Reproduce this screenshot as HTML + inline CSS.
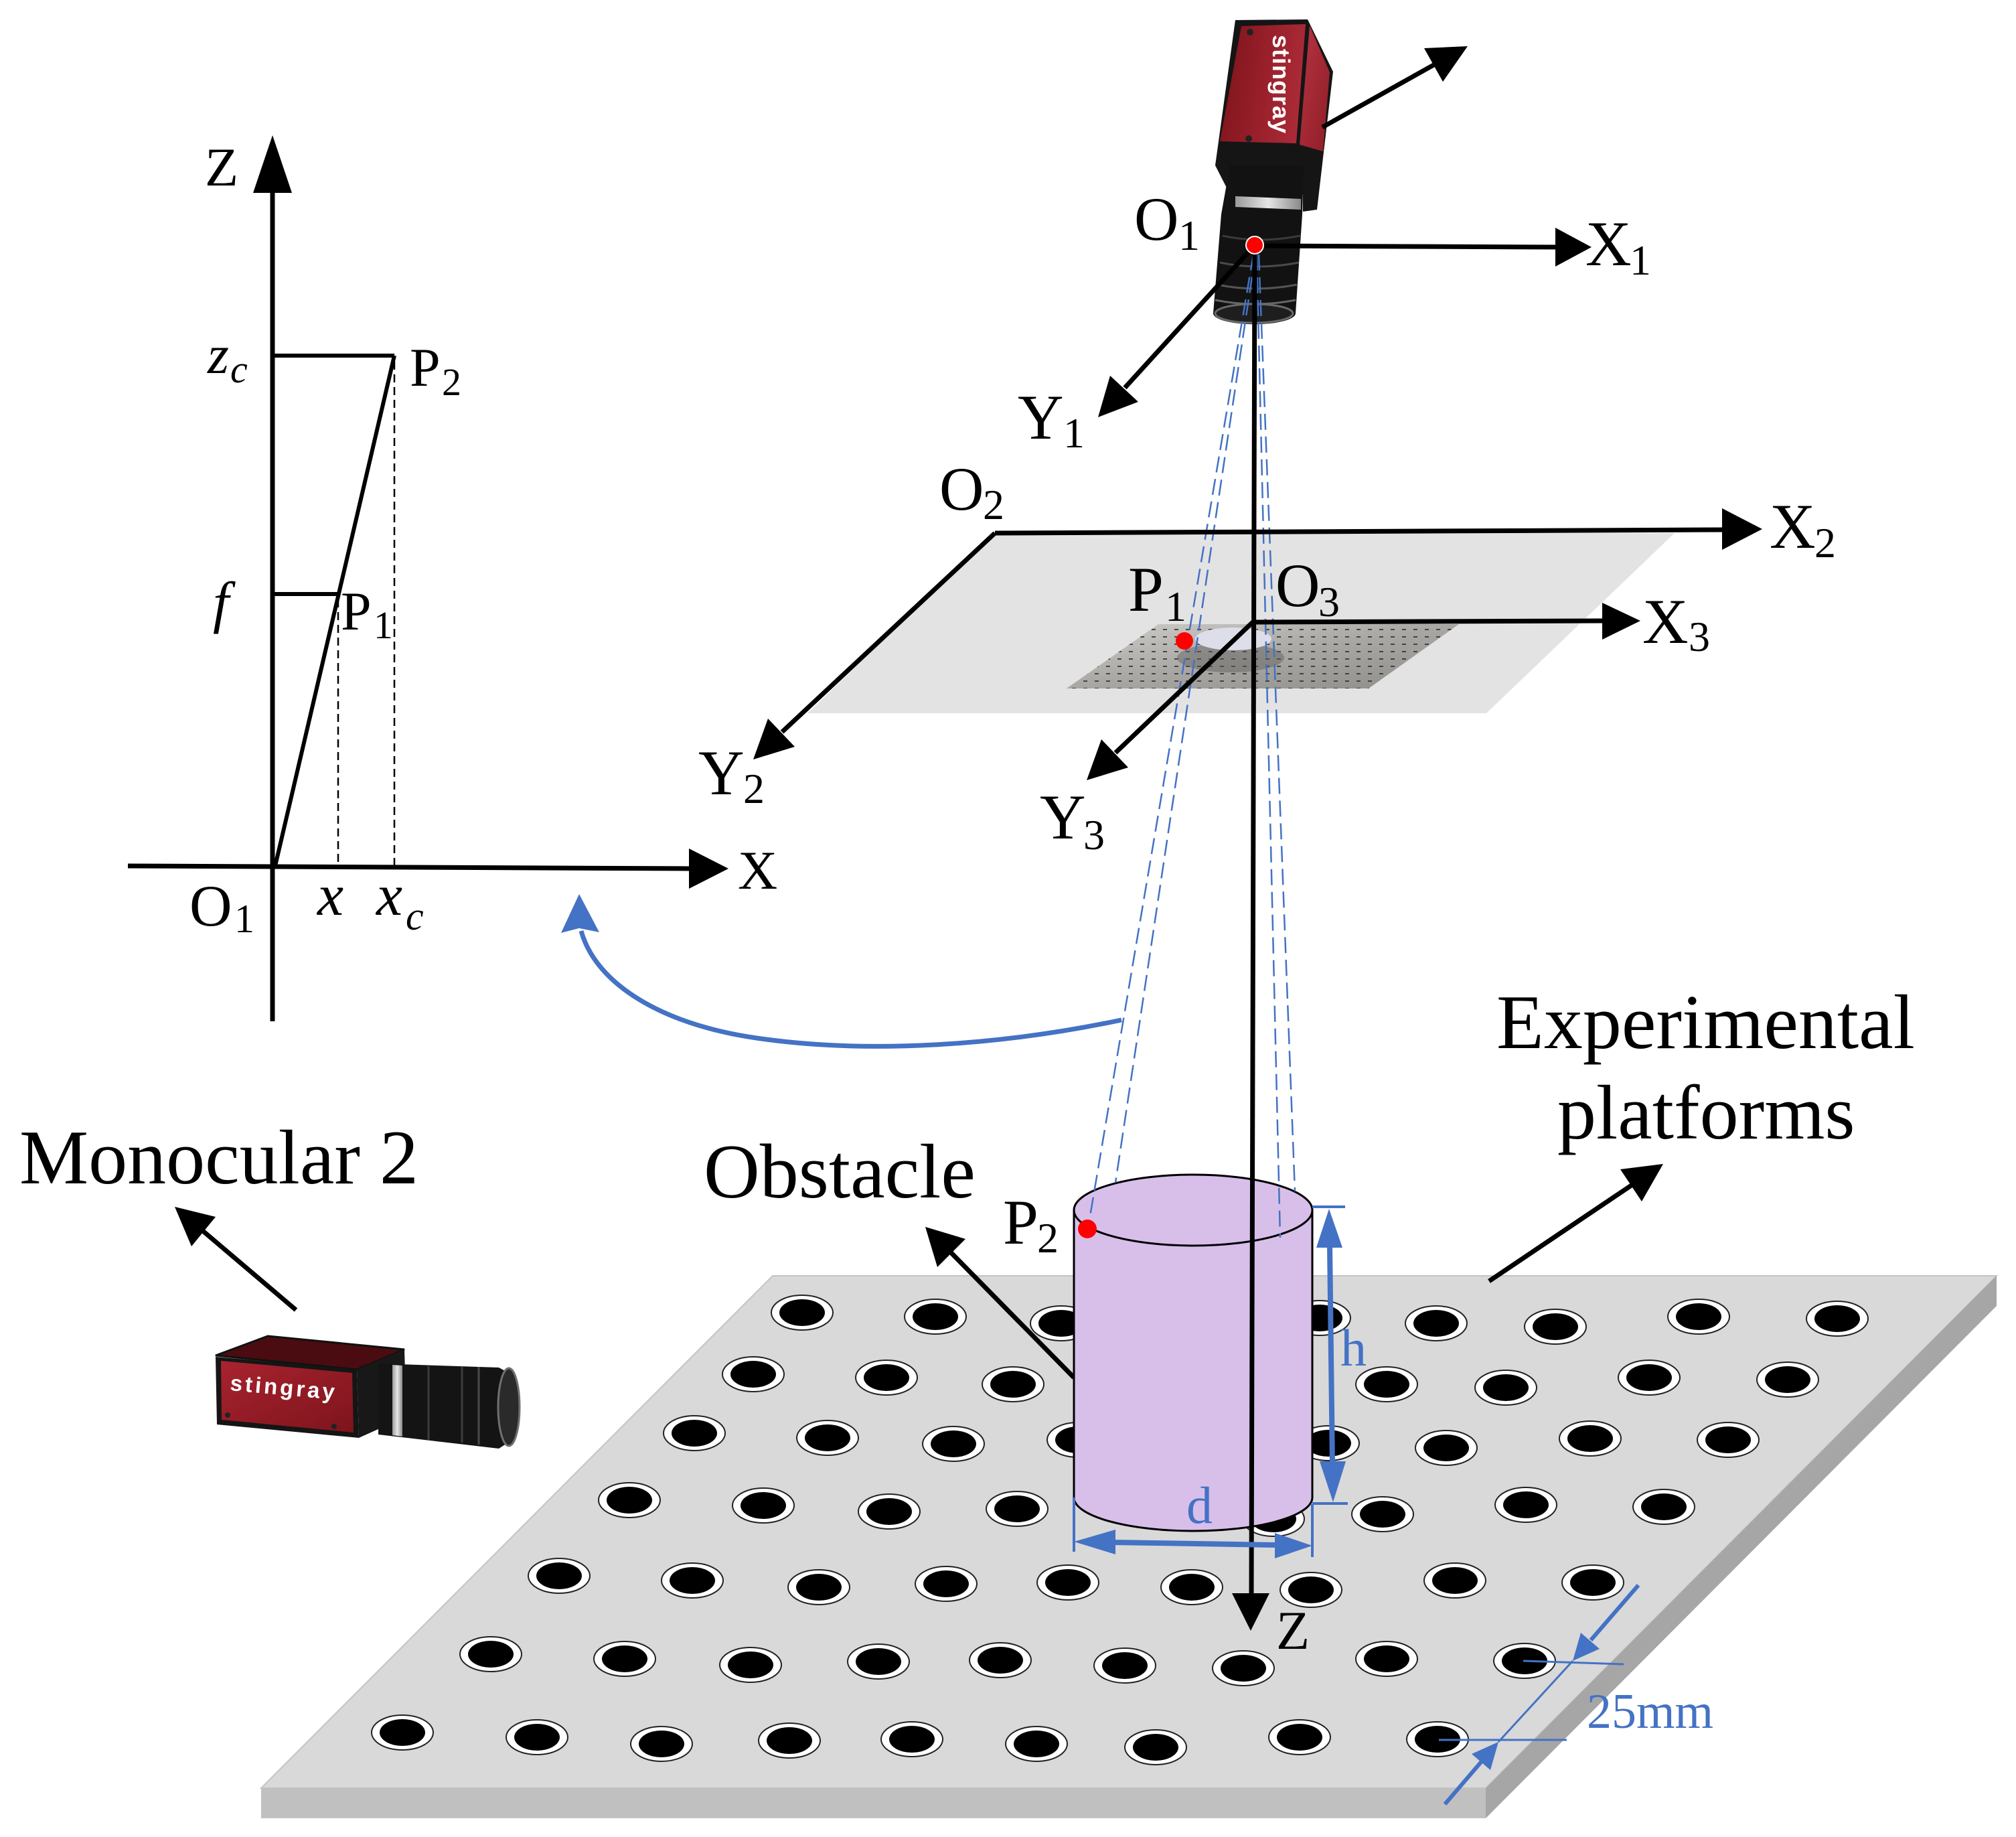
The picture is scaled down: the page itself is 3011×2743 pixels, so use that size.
<!DOCTYPE html>
<html>
<head>
<meta charset="utf-8">
<style>
  html, body { margin:0; padding:0; background:#fff; }
  svg { display:block; }
  .t { font-family: "Liberation Serif", "Times New Roman", serif; fill:#000; }
  .ti { font-family: "Liberation Serif", "Times New Roman", serif; font-style: italic; fill:#000; }
  .b { font-family: "Liberation Serif", "Times New Roman", serif; fill:#4472c4; }
</style>
</head>
<body>
<svg xmlns="http://www.w3.org/2000/svg" width="3011" height="2743" viewBox="0 0 3011 2743">
  <defs>
    <linearGradient id="red1" x1="0" y1="0" x2="1" y2="0.2">
      <stop offset="0" stop-color="#7a121a"/>
      <stop offset="0.55" stop-color="#971f29"/>
      <stop offset="1" stop-color="#a92a36"/>
    </linearGradient>
    <linearGradient id="red2" x1="0" y1="0" x2="1" y2="1">
      <stop offset="0" stop-color="#b73442"/>
      <stop offset="1" stop-color="#8e1d27"/>
    </linearGradient>
    <linearGradient id="red3" x1="0" y1="0" x2="1" y2="1">
      <stop offset="0" stop-color="#a8232f"/>
      <stop offset="1" stop-color="#7d141c"/>
    </linearGradient>
    <linearGradient id="silver" x1="0" y1="0" x2="1" y2="0">
      <stop offset="0" stop-color="#9a9a9a"/>
      <stop offset="0.5" stop-color="#e6e6e6"/>
      <stop offset="1" stop-color="#8a8a8a"/>
    </linearGradient>
    <linearGradient id="board" x1="0" y1="0" x2="1" y2="1">
      <stop offset="0" stop-color="#cfcecb"/>
      <stop offset="0.5" stop-color="#a9a7a3"/>
      <stop offset="1" stop-color="#8e8c88"/>
    </linearGradient>
    <pattern id="dots" width="17" height="11" patternUnits="userSpaceOnUse">
      <rect x="3" y="4" width="6" height="2" fill="#222"/>
    </pattern>
    <g id="hole">
      <ellipse rx="46" ry="26" fill="#fff" stroke="#222" stroke-width="2"/>
      <ellipse rx="34" ry="20" fill="#000"/>
    </g>
  </defs>

  <rect width="3011" height="2743" fill="#fff"/>

  <!-- ===== Image plane (plane 2) and calibration board ===== -->
  <polygon points="1486,796 2501,796 2220,1065 1206,1065" fill="#e3e3e3"/>
  <polygon points="1730,932 2179,932 2044,1028 1593,1028" fill="url(#board)"/>
  <polygon points="1730,932 2179,932 2044,1028 1593,1028" fill="url(#dots)" opacity="0.75"/>
  <ellipse cx="1838" cy="982" rx="80" ry="22" fill="#5e5c59" opacity="0.45"/>
  <ellipse cx="1842" cy="954" rx="57" ry="17" fill="#dddeea"/>

  <!-- ===== Experimental platform ===== -->
  <polygon points="1154,1905 2982,1905 2219,2670 390,2670" fill="#d9d9d9" stroke="#c4c4c4" stroke-width="2"/>
  <polygon points="390,2670 2219,2670 2219,2715 390,2715" fill="#c0c0c0"/>
  <polygon points="2982,1905 2982,1950 2219,2715 2219,2670" fill="#a6a6a6"/>

  <!-- holes -->
  <use href="#hole" x="1198" y="1960"/><use href="#hole" x="1397" y="1966"/><use href="#hole" x="1585" y="1976"/>
  <use href="#hole" x="1971" y="1968"/><use href="#hole" x="2145" y="1976"/><use href="#hole" x="2323" y="1981"/>
  <use href="#hole" x="2537" y="1966"/><use href="#hole" x="2744" y="1969"/>

  <use href="#hole" x="1125" y="2052"/><use href="#hole" x="1324" y="2057"/><use href="#hole" x="1513" y="2067"/>
  <use href="#hole" x="2071" y="2067"/><use href="#hole" x="2249" y="2072"/><use href="#hole" x="2463" y="2057"/>
  <use href="#hole" x="2670" y="2060"/>

  <use href="#hole" x="1037" y="2140"/><use href="#hole" x="1236" y="2147"/><use href="#hole" x="1424" y="2156"/>
  <use href="#hole" x="1610" y="2150"/><use href="#hole" x="1984" y="2155"/><use href="#hole" x="2160" y="2162"/>
  <use href="#hole" x="2375" y="2148"/><use href="#hole" x="2581" y="2150"/>

  <use href="#hole" x="940" y="2240"/><use href="#hole" x="1140" y="2248"/><use href="#hole" x="1328" y="2257"/>
  <use href="#hole" x="1519" y="2253"/><use href="#hole" x="1902" y="2268"/><use href="#hole" x="2065" y="2261"/>
  <use href="#hole" x="2279" y="2247"/><use href="#hole" x="2485" y="2250"/>

  <use href="#hole" x="835" y="2353"/><use href="#hole" x="1034" y="2360"/><use href="#hole" x="1223" y="2370"/>
  <use href="#hole" x="1413" y="2365"/><use href="#hole" x="1595" y="2363"/><use href="#hole" x="1780" y="2370"/>
  <use href="#hole" x="1958" y="2374"/><use href="#hole" x="2173" y="2360"/><use href="#hole" x="2379" y="2363"/>

  <use href="#hole" x="733" y="2470"/><use href="#hole" x="933" y="2477"/><use href="#hole" x="1121" y="2486"/>
  <use href="#hole" x="1312" y="2481"/><use href="#hole" x="1494" y="2479"/><use href="#hole" x="1680" y="2487"/>
  <use href="#hole" x="1857" y="2491"/><use href="#hole" x="2071" y="2477"/><use href="#hole" x="2277" y="2480"/>

  <use href="#hole" x="601" y="2587"/><use href="#hole" x="802" y="2594"/><use href="#hole" x="988" y="2604"/>
  <use href="#hole" x="1179" y="2599"/><use href="#hole" x="1362" y="2597"/><use href="#hole" x="1548" y="2604"/>
  <use href="#hole" x="1726" y="2609"/><use href="#hole" x="1941" y="2594"/><use href="#hole" x="2147" y="2597"/>

  <!-- ===== Leader arrows ===== -->
  <line x1="1604" y1="2057" x2="1420" y2="1870" stroke="#000" stroke-width="7"/>
  <polygon points="1382,1832 1442,1850 1400,1892" fill="#000"/>
  <line x1="2224" y1="1913" x2="2438" y2="1769" stroke="#000" stroke-width="7"/>
  <polygon points="2484,1738 2452,1794 2420,1746" fill="#000"/>
  <line x1="442" y1="1956" x2="303" y2="1838" stroke="#000" stroke-width="7"/>
  <polygon points="261,1802 322,1817 286,1861" fill="#000"/>

  <!-- ===== Cylinder (obstacle) ===== -->
  <path d="M1604,1807 L1604,2236 A178,50 0 0 0 1960,2236 L1960,1807 Z" fill="#d8bfea" stroke="#000" stroke-width="3"/>
  <ellipse cx="1782" cy="1807" rx="178" ry="53" fill="#d8bfea" stroke="#000" stroke-width="3"/>

  <!-- ===== Top camera (Monocular 1) ===== -->
  <g>
    <polygon points="1845,30 1953,29 1991,107 1967,313 1946,316 1946,290 1837,290 1815,247" fill="#151515"/>
    <polygon points="1854,39 1950,36 1936,214 1822,211" fill="url(#red1)"/>
    <polygon points="1956,38 1986,108 1976,226 1941,216" fill="url(#red2)"/>
    <circle cx="1867" cy="48" r="5" fill="#222"/>
    <circle cx="1865" cy="207" r="5" fill="#222"/>
    <text transform="translate(1901,52) rotate(90)" font-family="'Liberation Sans', Arial, sans-serif" font-size="36" font-weight="bold" letter-spacing="1" fill="#fff">stingray</text>
    <path d="M1837,247 L1947,247 L1945,320 L1935,468 A61,16 0 0 1 1812,468 L1824,320 Z" fill="#121212"/>
    <polygon points="1845,293 1943,297 1943,313 1845,309" fill="url(#silver)"/>
    <path d="M1826,352 Q1880,364 1942,352" stroke="#3a3a3a" stroke-width="3" fill="none"/>
    <path d="M1822,392 Q1878,404 1940,392" stroke="#4a4a4a" stroke-width="3" fill="none"/>
    <path d="M1818,425 Q1876,437 1937,425" stroke="#555" stroke-width="3" fill="none"/>
    <path d="M1815,448 Q1874,460 1935,448" stroke="#666" stroke-width="3" fill="none"/>
    <ellipse cx="1873" cy="468" rx="58" ry="14" fill="#1e1e1e" stroke="#6a6a6a" stroke-width="3"/>
  </g>

  <!-- ===== Bottom-left camera (Monocular 2) ===== -->
  <g>
    <polygon points="322,2024 400,1995 604,2015 533,2045" fill="#4a0c10" stroke="#111" stroke-width="3"/>
    <polygon points="322,2026 533,2045 536,2147 324,2127" fill="#151515"/>
    <polygon points="330,2032 526,2050 528,2139 331,2120" fill="url(#red3)"/>
    <polygon points="533,2045 604,2015 607,2115 536,2147" fill="#181818"/>
    <circle cx="340" cy="2113" r="4" fill="#222"/>
    <circle cx="499" cy="2130" r="4" fill="#222"/>
    <text transform="translate(343,2076) rotate(5)" font-family="'Liberation Sans', Arial, sans-serif" font-size="33" font-weight="bold" letter-spacing="4" fill="#fff">stingray</text>
    <path d="M565,2036 L745,2042 L760,2050 L762,2152 L745,2163 L565,2142 Z" fill="#141414"/>
    <polygon points="586,2038 601,2039 601,2145 586,2143" fill="url(#silver)"/>
    <line x1="640" y1="2040" x2="640" y2="2150" stroke="#3c3c3c" stroke-width="3"/>
    <line x1="690" y1="2041" x2="690" y2="2154" stroke="#3c3c3c" stroke-width="3"/>
    <line x1="715" y1="2041" x2="715" y2="2157" stroke="#4a4a4a" stroke-width="3"/>
    <ellipse cx="760" cy="2101" rx="16" ry="58" fill="#2a2a2a" stroke="#707070" stroke-width="3"/>
  </g>

  <!-- ===== Blue dashed projection rays ===== -->
  <g stroke="#4472c4" stroke-width="2.5" stroke-dasharray="24 10" fill="none">
    <line x1="1872" y1="380" x2="1627" y2="1822"/>
    <line x1="1875" y1="380" x2="1666" y2="1766"/>
    <line x1="1877" y1="380" x2="1912" y2="1848"/>
    <line x1="1880" y1="380" x2="1934" y2="1779"/>
  </g>

  <!-- ===== Right-side axes ===== -->
  <g stroke="#000" stroke-width="7" fill="none" stroke-linecap="butt">
    <line x1="1874" y1="366" x2="1869" y2="2382"/>
    <line x1="1874" y1="367" x2="2326" y2="369"/>
    <line x1="1874" y1="366" x2="1680" y2="579"/>
    <line x1="1975" y1="190" x2="2143" y2="96"/>
    <line x1="1486" y1="796" x2="2575" y2="791"/>
    <line x1="1486" y1="796" x2="1168" y2="1093"/>
    <line x1="1871" y1="929" x2="2396" y2="927"/>
    <line x1="1871" y1="929" x2="1666" y2="1124"/>
  </g>
  <g fill="#000">
    <polygon points="2377,369 2323,340 2323,398"/>
    <polygon points="1640,623 1700,600 1658,561"/>
    <polygon points="2192,69 2155,122 2127,72"/>
    <polygon points="2632,790 2572,759 2572,821"/>
    <polygon points="1125,1134 1187,1115 1147,1073"/>
    <polygon points="2450,927 2393,900 2393,955"/>
    <polygon points="1623,1165 1685,1146 1645,1104"/>
    <polygon points="1868,2435 1840,2379 1896,2379"/>
  </g>

  <!-- ===== Blue dimension marks ===== -->
  <g stroke="#4472c4" fill="none">
    <line x1="1960" y1="1802" x2="2009" y2="1802" stroke-width="4"/>
    <line x1="1960" y1="2245" x2="2013" y2="2245" stroke-width="4"/>
    <line x1="1986" y1="1858" x2="1990" y2="2188" stroke-width="8"/>
    <line x1="1604" y1="2236" x2="1604" y2="2317" stroke-width="4"/>
    <line x1="1960" y1="2246" x2="1960" y2="2325" stroke-width="4"/>
    <line x1="1660" y1="2303" x2="1906" y2="2307" stroke-width="8"/>
    <line x1="2275" y1="2480" x2="2425" y2="2485" stroke-width="3"/>
    <line x1="2149" y1="2598" x2="2340" y2="2598" stroke-width="3"/>
    <line x1="2349" y1="2480" x2="2238" y2="2601" stroke-width="3"/>
    <line x1="2447" y1="2367" x2="2376" y2="2449" stroke-width="6"/>
    <line x1="2158" y1="2694" x2="2213" y2="2630" stroke-width="6"/>
  </g>
  <g fill="#4472c4">
    <polygon points="1985,1805 1966,1863 2005,1863"/>
    <polygon points="1991,2243 1971,2182 2010,2182"/>
    <polygon points="1604,2302 1666,2284 1666,2321"/>
    <polygon points="1960,2308 1904,2289 1904,2327"/>
    <polygon points="2349,2480 2389,2462 2361,2438"/>
    <polygon points="2238,2601 2226,2643 2198,2619"/>
  </g>

  <!-- ===== Red points ===== -->
  <circle cx="1874" cy="366" r="13" fill="#ff0000" stroke="#fff" stroke-width="2"/>
  <circle cx="1769" cy="957" r="13" fill="#ff0000"/>
  <circle cx="1624" cy="1835" r="14" fill="#ff0000"/>

  <!-- ===== Blue curved arrow ===== -->
  <path d="M1675,1523 C1500,1560 1300,1575 1130,1550 C990,1530 890,1470 868,1390" stroke="#4472c4" stroke-width="7" fill="none"/>
  <polygon points="865,1335 838,1393 865,1386 895,1392" fill="#4472c4"/>

  <!-- ===== Left pinhole diagram ===== -->
  <g stroke="#000" fill="none">
    <line x1="407" y1="1525" x2="407" y2="286" stroke-width="7"/>
    <line x1="191" y1="1293" x2="1031" y2="1297" stroke-width="7"/>
    <line x1="407" y1="531" x2="589" y2="531" stroke-width="6"/>
    <line x1="407" y1="887" x2="505" y2="887" stroke-width="6"/>
    <line x1="411" y1="1293" x2="589" y2="531" stroke-width="6"/>
    <line x1="505" y1="895" x2="505" y2="1290" stroke-width="2.5" stroke-dasharray="12 7"/>
    <line x1="589" y1="540" x2="589" y2="1293" stroke-width="2.5" stroke-dasharray="12 7"/>
  </g>
  <polygon points="407,202 378,288 436,288" fill="#000"/>
  <polygon points="1088,1297 1029,1267 1029,1327" fill="#000"/>

  <!-- left labels -->
  <text class="t" x="306" y="277" font-size="82">Z</text>
  <text class="t" x="1102" y="1327" font-size="82">X</text>
  <text class="ti" x="310" y="557" font-size="82">z</text>
  <text class="ti" x="344" y="571" font-size="58">c</text>
  <text class="t" x="612" y="576" font-size="82">P</text>
  <text class="t" x="660" y="590" font-size="58">2</text>
  <text class="ti" x="318" y="928" font-size="86">f</text>
  <text class="t" x="509" y="940" font-size="82">P</text>
  <text class="t" x="558" y="953" font-size="58">1</text>
  <text class="t" x="283" y="1382" font-size="88">O</text>
  <text class="t" x="350" y="1392" font-size="60">1</text>
  <text class="ti" x="474" y="1366" font-size="88">x</text>
  <text class="ti" x="562" y="1366" font-size="88">x</text>
  <text class="ti" x="606" y="1388" font-size="60">c</text>

  <!-- right labels -->
  <text class="t" x="1694" y="358" font-size="92">O</text>
  <text class="t" x="1760" y="373" font-size="64">1</text>
  <text class="t" x="2368" y="396" font-size="95">X</text>
  <text class="t" x="2434" y="410" font-size="64">1</text>
  <text class="t" x="1520" y="655" font-size="95">Y</text>
  <text class="t" x="1588" y="668" font-size="64">1</text>
  <text class="t" x="1403" y="761" font-size="92">O</text>
  <text class="t" x="1468" y="775" font-size="64">2</text>
  <text class="t" x="2643" y="818" font-size="95">X</text>
  <text class="t" x="2710" y="832" font-size="64">2</text>
  <text class="t" x="1043" y="1186" font-size="95">Y</text>
  <text class="t" x="1110" y="1199" font-size="64">2</text>
  <text class="t" x="1905" y="905" font-size="92">O</text>
  <text class="t" x="1969" y="920" font-size="64">3</text>
  <text class="t" x="2453" y="960" font-size="95">X</text>
  <text class="t" x="2522" y="972" font-size="64">3</text>
  <text class="t" x="1553" y="1252" font-size="95">Y</text>
  <text class="t" x="1618" y="1268" font-size="64">3</text>
  <text class="t" x="1685" y="912" font-size="95">P</text>
  <text class="t" x="1740" y="927" font-size="64">1</text>
  <text class="t" x="1498" y="1857" font-size="95">P</text>
  <text class="t" x="1549" y="1870" font-size="64">2</text>
  <text class="t" x="1906" y="2462" font-size="82">Z</text>

  <!-- blue labels -->
  <text class="b" x="2002" y="2039" font-size="78">h</text>
  <text class="b" x="1772" y="2274" font-size="78">d</text>
  <text class="b" x="2370" y="2580" font-size="74">25mm</text>

  <!-- big labels -->
  <text class="t" x="29" y="1767" font-size="116">Monocular 2</text>
  <text class="t" x="1051" y="1788" font-size="116">Obstacle</text>
  <text class="t" x="2235" y="1565" font-size="116">Experimental</text>
  <text class="t" x="2326" y="1700" font-size="116">platforms</text>
</svg>
</body>
</html>
